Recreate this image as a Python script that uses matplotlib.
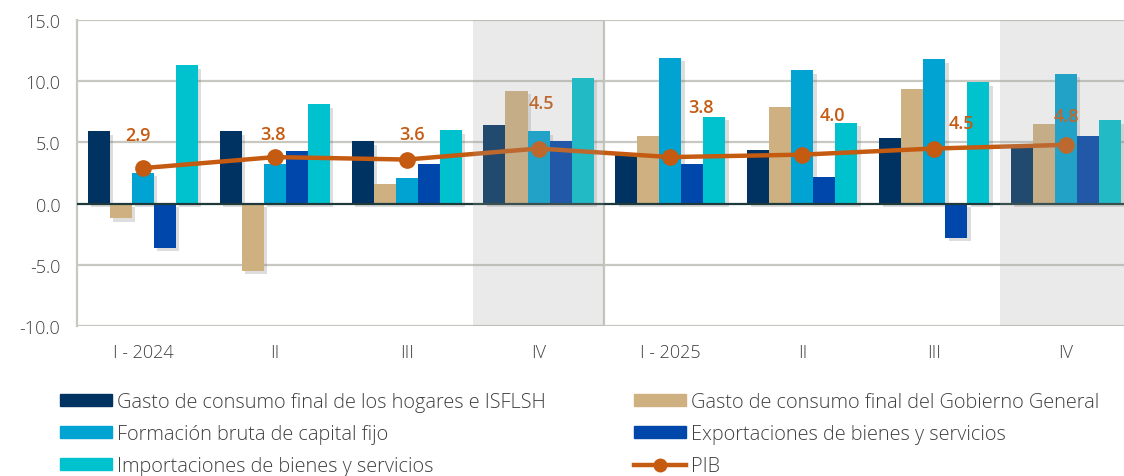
import numpy as np
import matplotlib
matplotlib.use("Agg")
import matplotlib.pyplot as plt
import matplotlib.patheffects as pe
from matplotlib.patches import Patch
from matplotlib.lines import Line2D

plt.rcParams['font.family'] = ['Open Sans', 'DejaVu Sans']

quarters = ["I - 2024", "II", "III", "IV", "I - 2025", "II", "III", "IV"]
hogares = [5.9, 5.9, 5.1, 6.4, 4.0, 4.4, 5.4, 4.8]
gobierno = [-1.2, -5.5, 1.6, 9.2, 5.5, 7.9, 9.4, 6.5]
fbkf = [2.5, 3.2, 2.1, 5.9, 11.9, 10.9, 11.8, 10.6]
exportaciones = [-3.6, 4.3, 3.2, 5.1, 3.2, 2.2, -2.8, 5.5]
importaciones = [11.3, 8.1, 6.0, 10.3, 7.1, 6.6, 9.9, 6.8]
pib = [2.9, 3.8, 3.6, 4.5, 3.8, 4.0, 4.5, 4.8]

names = ["Gasto de consumo final de los hogares e ISFLSH",
         "Gasto de consumo final del Gobierno General",
         "Formación bruta de capital fijo",
         "Exportaciones de bienes y servicios",
         "Importaciones de bienes y servicios",
         "PIB"]
colors = ["#003361", "#cfb181", "#00a3d1", "#0047ab", "#00c2cf"]
orange = "#c55a11"
grey_txt = "#404040"
grid_c = "#c8c8c0"

# label offsets in pixels (hand placed, like the original)
lab_off = [(-5, 33), (-2, 23), (5, 26), (3, 46), (31, 50), (30, 40), (27, 26), (0, 29)]

fig = plt.figure(figsize=(11.24, 4.77), dpi=100)
ax = fig.add_axes([77/1124, 1-327/477, 1-77/1124, 306/477])

x = np.arange(len(quarters))
w = 0.167
series = [hogares, gobierno, fbkf, exportaciones, importaciones]
shadow = [pe.SimplePatchShadow(offset=(2.5, -2.5), shadow_rgbFace='#666666', alpha=0.22), pe.Normal()]
for i, (vals, c) in enumerate(zip(series, colors)):
    bars = ax.bar(x + (i-2)*w, vals, w, color=c, zorder=3)
    for b in bars:
        b.set_path_effects(shadow)

ax.plot(x, pib, color=orange, lw=3.2, marker='o', ms=11, zorder=5)
for xi, v, off in zip(x, pib, lab_off):
    ax.annotate("%.1f" % v, (xi, v), xytext=off, textcoords='offset pixels',
                ha='center', va='center', color=orange, fontsize=13,
                fontweight='semibold', zorder=6)

# grey shading over the fourth quarters
for x0 in [2.5, 6.5]:
    ax.axvspan(x0, x0+1, color=(160/255, 160/255, 160/255), alpha=0.21, lw=0, zorder=8)

for yv in [15, 10, 5, -5, -10]:
    ax.axhline(yv, color=grid_c, lw=1.6, zorder=1)
ax.axhline(0, color="#1f3a3a", lw=1.6, zorder=4)
ax.axvline(3.5, color=grid_c, lw=1.6, zorder=1)

ax.set_xlim(-0.5, 7.44)
ax.set_ylim(-10, 15)
ax.set_yticks([15, 10, 5, 0, -5, -10])
ax.set_yticklabels(["%.1f" % t for t in [15, 10, 5, 0, -5, -10]])
ax.set_xticks(x)
ax.set_xticklabels(quarters)
ax.tick_params(length=0, labelsize=13, labelcolor=grey_txt)
ax.tick_params(axis='x', pad=12)
ax.tick_params(axis='y', pad=12)
for lab in ax.get_xticklabels() + ax.get_yticklabels():
    lab.set_fontweight('light')
for s in ['top', 'right', 'bottom']:
    ax.spines[s].set_visible(False)
ax.spines['left'].set_color(grid_c)
ax.spines['left'].set_linewidth(1.6)

h = [Patch(color=c) for c in colors]
h.append(Line2D([], [], color=orange, lw=3.2, marker='o', ms=9))
leg_kw = dict(frameon=False, handlelength=2.6, handleheight=0.55,
              handletextpad=0.25, labelspacing=0.62, borderpad=0, borderaxespad=0,
              loc='center left', labelcolor=grey_txt,
              prop={'family': ['Open Sans', 'DejaVu Sans'], 'weight': 'light', 'size': 14.3})
fig.legend([h[0], h[2], h[4]], [names[0], names[2], names[4]],
           bbox_to_anchor=(60/1124, 1-435/477), **leg_kw)
fig.legend([h[1], h[3], h[5]], [names[1], names[3], names[5]],
           bbox_to_anchor=(634/1124, 1-435/477), **leg_kw)

fig.savefig("out.png", dpi=100)
